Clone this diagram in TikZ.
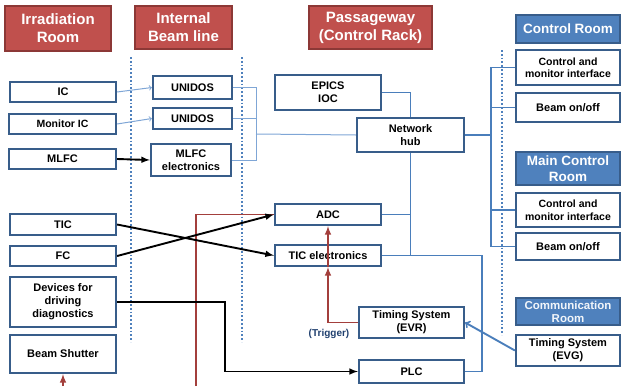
\documentclass[tikz,border=0pt]{standalone}
\usepackage{fontspec}
\setmainfont{Liberation Sans}
\usepackage{tikz}
\usetikzlibrary{positioning,shapes,arrows}

\definecolor{hdred}{HTML}{C0504D}
\definecolor{hdredline}{HTML}{8C3836}
\definecolor{hdblue}{HTML}{4F81BD}
\definecolor{boxline}{HTML}{385D8A}
\definecolor{netblue}{HTML}{4A7EBB}
\definecolor{lightnet}{HTML}{7FA6D6}
\definecolor{trigred}{HTML}{A33F3C}
\definecolor{lbldark}{HTML}{1F3F6E}

\tikzset{
    redhead/.style={draw=hdredline, fill=hdred, line width=1.2pt, text=white, align=center, inner sep=0pt,
        font=\fontsize{15}{18}\selectfont\bfseries},
    bluehead/.style={draw=boxline, fill=hdblue, line width=1.2pt, text=white, align=center, inner sep=0pt,
        font=\fontsize{13.5}{16}\selectfont\bfseries},
    unit/.style={draw=boxline, fill=white, line width=2.2pt, align=center, inner sep=0pt,
        font=\fontsize{11}{13}\selectfont\bfseries},
    smallunit/.style={unit, font=\fontsize{10.5}{12.5}\selectfont\bfseries},
    sigline/.style={black, line width=1.9pt},
    netline/.style={netblue, line width=1.9pt},
    thinnet/.style={lightnet, line width=1pt},
    trigline/.style={trigred, line width=1.9pt},
    sepline/.style={hdblue, line width=1.8pt, dotted}
}

\begin{document}
\begin{tikzpicture}[x=1pt, y=-1pt]
    \useasboundingbox (0,0) rectangle (621,386);

    % Area separators
    \foreach \x/\ya/\yb in {131/57/342, 242/57/342, 502/50/335} {
        \draw[sepline] (\x,\ya) -- (\x,\yb);
    }

    % Area titles
    \node[redhead, minimum width=106, minimum height=45] (irr) at (58,28.5) {Irradiation\\Room};
    \node[redhead, minimum width=97, minimum height=43] (ibl) at (183.5,27.5) {Internal\\Beam line};
    \node[redhead, minimum width=123, minimum height=43] (pass) at (370.5,27.5) {Passageway\\(Control Rack)};
    \node[bluehead, minimum width=104, minimum height=28] (croom) at (568,29) {Control Room};
    \node[bluehead, minimum width=104, minimum height=33] (mcroom) at (568,168.5) {Main Control\\Room};
    \node[bluehead, minimum width=104, minimum height=27, text=white!92!hdblue,
        font=\fontsize{11.5}{13}\selectfont\bfseries] (comroom) at (568,311.5) {Communication\\Room};

    % Irradiation room devices
    \node[unit, minimum width=106, minimum height=20] (ic) at (63,92) {IC};
    \node[smallunit, minimum width=107, minimum height=20] (mic) at (62.5,124) {Monitor IC};
    \node[unit, minimum width=107, minimum height=20] (mlfc) at (62.5,159) {MLFC};
    \node[unit, minimum width=106, minimum height=21] (tic) at (63,224.5) {TIC};
    \node[unit, minimum width=106, minimum height=20] (fc) at (63,256) {FC};
    \node[unit, minimum width=106, minimum height=50] (dev) at (63,302) {Devices for\\driving\\diagnostics};
    \node[unit, minimum width=106, minimum height=38] (shut) at (63,354) {Beam Shutter};

    % Internal beam line
    \node[unit, minimum width=79, minimum height=23] (uni1) at (192.5,87.5) {UNIDOS};
    \node[unit, minimum width=79, minimum height=21] (uni2) at (192.5,118.5) {UNIDOS};
    \node[unit, minimum width=80, minimum height=32] (mlfce) at (191,160) {MLFC\\electronics};

    % Control rack
    \node[unit, minimum width=106, minimum height=35] (epics) at (328,92.5) {EPICS\\IOC};
    \node[unit, minimum width=107, minimum height=34] (hub) at (410.5,135) {Network\\hub};
    \node[unit, minimum width=106, minimum height=21] (adc) at (328,214.5) {ADC};
    \node[unit, minimum width=106, minimum height=21] (tice) at (328,255.5) {TIC electronics};
    \node[unit, minimum width=105, minimum height=31] (evr) at (411.5,322.5) {Timing System\\(EVR)};
    \node[unit, minimum width=105, minimum height=23] (plc) at (411.5,371.5) {PLC};
    \node[text=lbldark, font=\fontsize{10}{12}\selectfont\bfseries] (trig) at (329,334) {(Trigger)};

    % Control rooms
    \node[smallunit, minimum width=104, minimum height=35] (cmi1) at (568,67.5) {Control and\\monitor interface};
    \node[unit, minimum width=104, minimum height=29] (bo1) at (568,107.5) {Beam on/off};
    \node[smallunit, minimum width=104, minimum height=34] (cmi2) at (568,210) {Control and\\monitor interface};
    \node[unit, minimum width=104, minimum height=27] (bo2) at (568,246.5) {Beam on/off};
    \node[unit, minimum width=104, minimum height=31] (evg) at (568,350.5) {Timing System\\(EVG)};

    % Junction points
    \coordinate (j1) at (256,134);
    \coordinate (bus) at (491,0);
    \coordinate (trunk) at (482,0);
    \coordinate (dj) at (225,0);
    \coordinate (rb) at (196,386);
    \coordinate (sb) at (63,386);

    % Dosimeters to readout
    \draw[thinnet, ->] (ic.east) -- (uni1.west);
    \draw[thinnet, ->] (mic.east) -- (uni2.west);
    \draw[sigline, -latex] (mlfc.east) -- (mlfce.west);
    \foreach \n in {uni1, uni2, mlfce} {
        \draw[thinnet] (\n.east) -| (j1);
    }
    \draw[thinnet] (j1) -- (hub.west);

    % Network
    \draw[netline] (epics.east) -| (hub.north);
    \draw[netline] (hub.east) -- (hub.east -| bus);
    \draw[netline] (cmi1.west) -- (cmi1.west -| bus) -- (bo2.west -| bus) -- (bo2.west);
    \foreach \n in {bo1, cmi2} {
        \draw[netline] (\n.west) -- (\n.west -| bus);
    }
    \draw[netline] (hub.south) -- (hub.south |- tice.east);
    \draw[netline] (adc.east) -- (adc.east -| hub.south);
    \draw[netline] (tice.east) -- (tice.east -| trunk) |- (plc.east);
    \draw[netline, ->] (evg.west) -- (evr.east);

    % Trigger lines
    \draw[trigline] (rb) |- (adc.west);
    \draw[trigline, -latex] (evr.west) -| (tice.south);
    \draw[trigline, -latex] (tice.south) -- (adc.south);
    \draw[trigline, -latex] (sb) -- (shut.south);

    % Signals
    \draw[sigline, -latex] (tic.east) -- (tice.west);
    \draw[sigline, -latex] (fc.east) -- (adc.west);
    \draw[sigline, -latex] (dev.east) -- (dev.east -| dj) |- (plc.west);
\end{tikzpicture}
\end{document}
